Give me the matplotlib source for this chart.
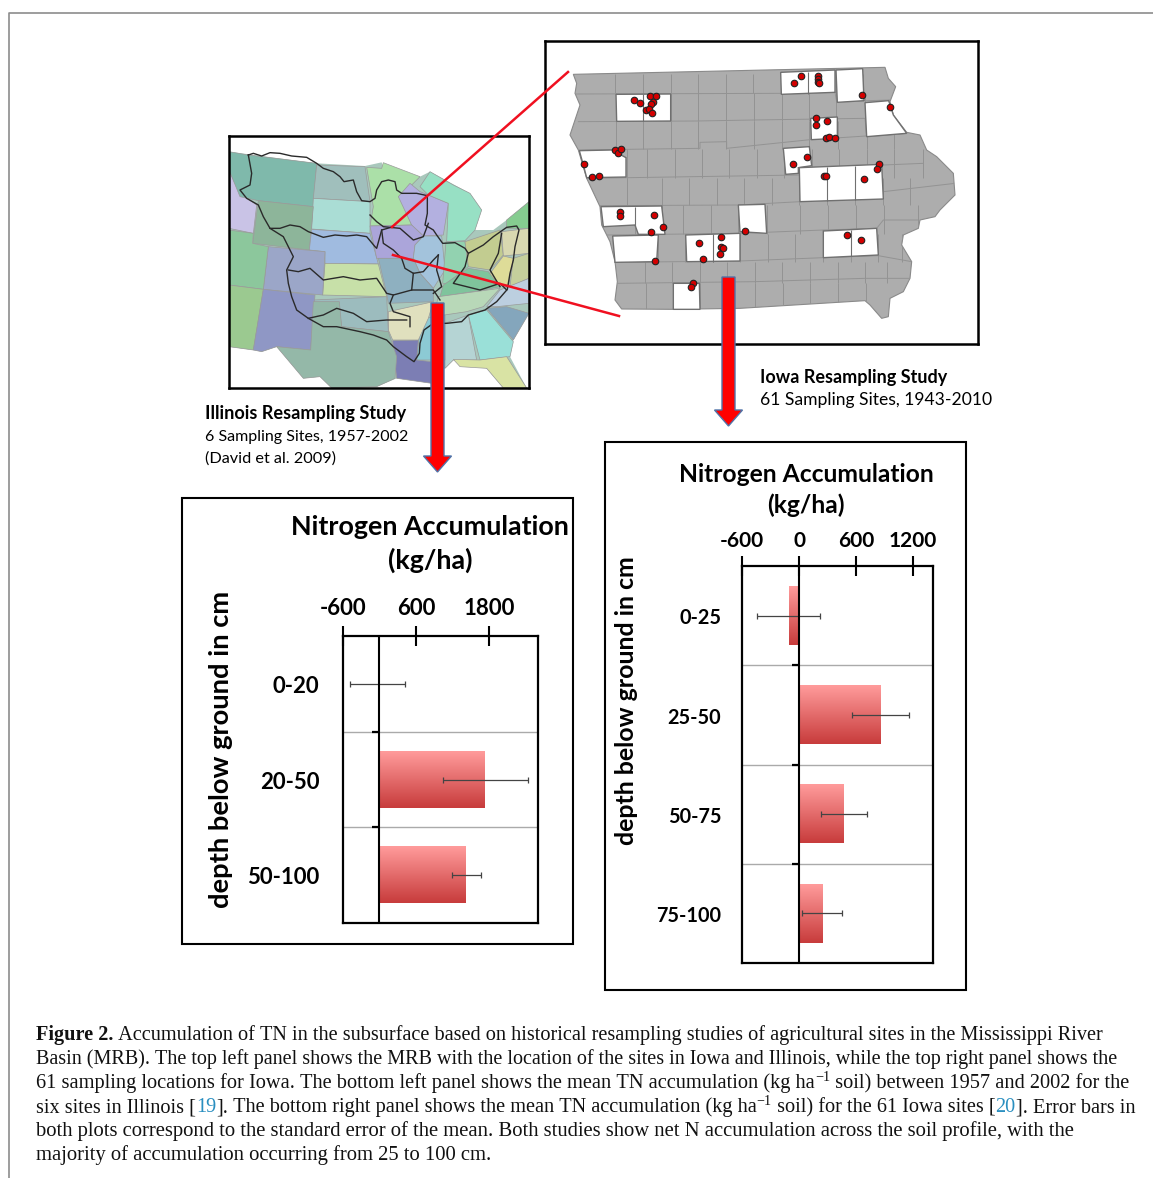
import numpy as np
import matplotlib
matplotlib.use('Agg')
import matplotlib.pyplot as plt
from matplotlib.patches import Polygon, Rectangle
from matplotlib.transforms import ScaledTranslation

W, H = 1153, 1178

# Illinois chart values
il_depths = ['0-20', '20-50', '50-100']
il_values = [0, 1739, 1426]
il_err_low = [-479, 1040, 1189]
il_err_high = [418, 2444, 1673]
il_ticks = [-600, 600, 1800]

# Iowa chart values
ia_depths = ['0-25', '25-50', '50-75', '75-100']
ia_values = [-108, 858, 467, 244]
ia_err_low = [-445, 558, 234, 35]
ia_err_high = [225, 1158, 712, 457]
ia_ticks = [-600, 0, 600, 1200]

# Iowa sampling sites, in map coordinates
site_x = [281, 300, 331, 348, 338, 334, 318, 326, 337, 782, 763, 833, 833, 833, 837, 965, 1050,
          829, 828, 862, 859, 867, 885, 800, 759, 224, 233, 242, 131, 155, 176,
          1016, 1012, 851, 858, 972, 240, 240, 341, 370, 333,
          614, 921, 962, 345, 478, 489, 542, 542, 548, 541, 459, 453]
site_y = [195, 205, 182, 183, 200, 207, 226, 222, 233, 122, 145, 124, 133, 141, 143, 181, 216,
          250, 269, 258, 309, 305, 310, 365, 388, 346, 353, 343, 388, 426, 424,
          388, 403, 423, 422, 433, 530, 543, 539, 575, 591,
          587, 599, 615, 678, 625, 671, 606, 637, 639, 658, 743, 757]

iowa_outline = [(100, 118), (1035, 97), (1045, 130), (1067, 155), (1050, 200), (1060, 240), (1100, 292),
                (1140, 300), (1160, 345), (1190, 365), (1240, 415), (1245, 480), (1200, 525), (1185, 545),
                (1140, 555), (1135, 580), (1090, 600), (1085, 630), (1115, 680), (1110, 730), (1090, 770),
                (1050, 790), (1045, 845), (1025, 850), (990, 810), (975, 797), (600, 820), (400, 823),
                (245, 822), (225, 795), (232, 740), (225, 680), (210, 620), (185, 570), (180, 515),
                (140, 430), (115, 345), (90, 300), (120, 210), (105, 175), (110, 145)]

white_counties = [
    [(228, 178), (392, 177), (392, 258), (230, 259)],
    [(722, 112), (885, 105), (885, 172), (724, 178)],
    [(888, 105), (968, 101), (972, 197), (892, 202)],
    [(975, 203), (1046, 197), (1060, 240), (1100, 295), (980, 305)],
    [(812, 250), (892, 246), (892, 310), (814, 314)],
    [(730, 340), (808, 335), (815, 392), (775, 398), (775, 415), (737, 418)],
    [(778, 398), (1025, 388), (1030, 492), (780, 500)],
    [(118, 347), (215, 345), (258, 368), (258, 426), (140, 428), (130, 390)],
    [(183, 515), (365, 513), (375, 598), (295, 598), (285, 570), (190, 575)],
    [(218, 603), (355, 600), (350, 680), (225, 682)],
    [(437, 600), (600, 595), (600, 678), (440, 680)],
    [(595, 510), (675, 508), (680, 595), (600, 590)],
    [(850, 588), (1010, 580), (1015, 660), (850, 668)],
    [(400, 745), (478, 745), (480, 823), (400, 823)],
]

# county grid: (top, bottom, x positions)
county_rows = [
    (118, 175, [225, 310, 392, 475, 558, 640, 722, 805, 888, 970]),
    (175, 258, [228, 310, 392, 475, 558, 642, 725, 808, 888, 975]),
    (258, 342, [228, 310, 392, 475, 558, 642, 725, 808, 895, 980, 1062]),
    (342, 428, [260, 322, 405, 487, 568, 650, 733, 815, 898, 980, 1062, 1148]),
    (428, 510, [260, 365, 448, 530, 612, 695, 778, 860, 945, 1030, 1110]),
    (510, 597, [285, 365, 430, 512, 595, 680, 780, 865, 948, 1033, 1135]),
    (597, 680, [355, 435, 518, 600, 685, 765, 850, 932, 1015, 1085]),
    (680, 745, [315, 397, 480, 560, 645, 727, 810, 893, 975, 1040]),
    (745, 822, [317, 400, 480, 563, 645, 730, 810, 895, 978]),
]
county_lines = [
    [(105, 177), (725, 175), (885, 172), (890, 200), (1050, 195)],
    [(115, 260), (470, 258), (640, 255), (975, 250), (980, 305), (1100, 295)],
    [(115, 345), (480, 340), (480, 322), (560, 320), (560, 340), (810, 314), (1100, 295)],
    [(140, 430), (780, 420), (1030, 390), (1150, 385)],
    [(180, 512), (595, 510), (780, 500), (1030, 470), (1245, 445)],
    [(200, 600), (600, 595), (850, 585), (1010, 580), (1030, 555), (1135, 555)],
    [(225, 682), (600, 678), (850, 668), (1015, 662), (1115, 680)],
    [(232, 745), (645, 740), (975, 730), (1110, 730)],
]

# US states and basin lines, in map coordinates
us_outline = [(27, 65), (290, 100), (435, 108), (485, 97), (490, 115), (600, 140), (630, 125), (750, 190), (785, 240),
              (765, 300), (820, 300), (860, 270), (927, 215), (927, 550), (880, 630), (870, 680), (920, 774),
              (850, 774), (800, 715), (700, 690), (675, 715), (635, 760), (530, 745), (470, 770), (335, 774),
              (300, 740), (250, 745), (170, 650), (125, 665), (100, 660), (27, 650)]

state_shapes = [
    ('#c9c3e6', [(27, 120), (50, 170), (60, 190), (110, 225), (100, 310), (27, 295)]),
    ('#7fb9ab', [(27, 65), (85, 75), (290, 100), (280, 230), (115, 212), (60, 200), (27, 120)]),
    ('#a0bfbc', [(290, 105), (435, 110), (450, 215), (280, 205)]),
    ('#abe0a8', [(440, 112), (485, 115), (490, 98), (600, 140), (540, 200), (575, 285), (450, 288), (460, 230)]),
    ('#b3b0e0', [(535, 200), (570, 160), (600, 185), (625, 195), (685, 220), (670, 315), (610, 318), (575, 285)]),
    ('#97e0c4', [(600, 170), (630, 125), (700, 165), (750, 190), (785, 240), (765, 300), (735, 332), (680, 335), (685, 220), (625, 195)]),
    ('#aaddd5', [(280, 205), (450, 215), (450, 310), (275, 297)]),
    ('#8db59a', [(115, 212), (280, 230), (268, 360), (98, 340)]),
    ('#a0bbe0', [(275, 298), (450, 310), (475, 402), (315, 400), (315, 365), (268, 360)]),
    ('#aba5da', [(450, 288), (575, 285), (610, 318), (585, 345), (580, 385), (470, 385)]),
    ('#a3c3dc', [(585, 345), (610, 318), (665, 318), (675, 420), (640, 475), (600, 430), (580, 385)]),
    ('#92d2b0', [(678, 335), (735, 335), (745, 410), (680, 460), (668, 460)]),
    ('#c2cc90', [(735, 335), (840, 300), (850, 375), (810, 420), (745, 410)]),
    ('#d8d8b0', [(845, 305), (927, 295), (927, 370), (850, 378)]),
    ('#85cc90', [(860, 270), (927, 215), (927, 295), (860, 295)]),
    ('#c5cf9c', [(880, 385), (927, 370), (927, 445), (870, 470)]),
    ('#dedc98', [(810, 430), (850, 378), (880, 385), (865, 470), (805, 460)]),
    ('#7fc49c', [(670, 465), (745, 415), (805, 425), (840, 470), (790, 480), (660, 500)]),
    ('#b8d8b8', [(655, 500), (840, 475), (790, 530), (740, 545), (640, 560)]),
    ('#bccfe0', [(840, 480), (927, 445), (927, 520), (830, 530), (800, 530)]),
    ('#84a6bc', [(800, 535), (860, 530), (927, 550), (880, 630)]),
    ('#9ae0d8', [(745, 555), (800, 540), (880, 635), (870, 680), (780, 690)]),
    ('#b5d4d4', [(675, 580), (745, 555), (770, 690), (700, 690), (675, 715)]),
    ('#8ccad4', [(610, 565), (675, 555), (675, 690), (590, 690), (598, 620)]),
    ('#7c7eb4', [(518, 632), (595, 630), (590, 690), (635, 695), (635, 760), (530, 745)]),
    ('#e0e0be', [(505, 545), (640, 515), (625, 565), (595, 630), (518, 630), (505, 600)]),
    ('#8eb0c0', [(475, 385), (580, 385), (600, 430), (640, 475), (640, 515), (505, 520), (500, 490)]),
    ('#9cbcbe', [(280, 510), (500, 500), (505, 605), (365, 590), (355, 520), (280, 520)]),
    ('#c7e0a8', [(315, 400), (475, 402), (500, 500), (308, 495)]),
    ('#9ba6c8', [(145, 350), (315, 365), (308, 495), (130, 478)]),
    ('#8cc79c', [(27, 300), (100, 310), (98, 340), (145, 350), (130, 478), (27, 465)]),
    ('#9bc990', [(27, 465), (130, 478), (100, 660), (27, 650)]),
    ('#8f97c5', [(130, 478), (285, 495), (272, 660), (170, 650), (125, 665), (100, 660)]),
    ('#94b8a8', [(280, 515), (358, 515), (365, 590), (505, 605), (530, 680), (525, 745), (470, 770), (335, 774), (300, 740), (250, 745), (170, 650), (272, 660)]),
    ('#d9e3a4', [(700, 688), (780, 690), (860, 680), (920, 774), (850, 774), (800, 715), (720, 710)]),
]

basin_lines = [
    [(85, 75), (100, 70), (125, 78), (150, 68), (180, 70), (215, 78), (260, 82), (290, 100), (310, 115), (340, 125),
     (360, 140), (372, 155), (400, 150), (410, 185), (425, 212), (450, 215), (465, 205), (470, 180), (485, 155),
     (505, 150), (525, 155), (530, 180), (545, 190), (590, 190), (622, 197), (622, 250), (615, 285), (640, 300),
     (650, 315), (668, 340), (705, 338), (735, 355), (745, 370), (790, 345), (820, 320), (860, 292), (890, 288),
     (897, 300), (885, 350), (880, 390), (870, 430), (862, 478), (830, 515), (795, 540), (745, 555), (725, 575),
     (680, 580), (640, 580), (612, 600), (600, 640), (598, 670), (582, 695), (560, 680), (520, 650), (500, 630),
     (460, 615), (420, 605), (350, 590), (310, 590), (265, 565), (230, 540), (215, 500), (205, 460), (200, 420),
     (220, 380), (205, 350), (190, 320), (150, 295), (130, 260), (115, 225), (80, 205), (60, 180), (90, 165),
     (95, 130), (85, 75)],
    [(150, 295), (180, 295), (210, 285), (240, 290), (265, 305), (310, 322), (345, 315), (380, 318), (410, 315),
     (440, 320), (465, 350), (470, 355), (485, 300), (520, 290)],
    [(485, 300), (490, 340), (520, 360), (545, 385), (555, 415), (580, 430), (610, 425), (640, 390), (655, 375)],
    [(450, 255), (470, 275), (490, 290), (540, 295), (580, 330), (610, 320), (625, 280)],
    [(205, 420), (235, 425), (270, 415), (310, 450), (370, 440), (420, 450), (470, 445), (500, 490), (520, 495),
     (575, 480), (640, 480), (660, 510)],
    [(575, 480), (580, 430)],
    [(520, 495), (510, 520), (520, 545), (570, 560), (570, 590)],
    [(265, 565), (310, 555), (350, 535), (400, 550), (440, 575), (500, 570), (560, 570)],
    [(745, 370), (735, 410), (700, 460), (740, 470), (780, 480), (840, 460), (860, 480)],
    [(655, 375), (650, 420), (665, 470), (640, 490)],
    [(845, 310), (835, 370), (810, 420), (840, 470)],
]

plt.rcParams['font.family'] = ['Lato', 'DejaVu Sans']
fig = plt.figure(figsize=(W / 100, H / 100), dpi=100)


def px_axes(left, top, right, bottom, **kw):
    return fig.add_axes([left / W, 1 - bottom / H, (right - left) / W, (bottom - top) / H], **kw)


# US map
us = px_axes(229, 136, 529, 388)
us.add_patch(Polygon(us_outline, closed=True, facecolor='#a9c8bc', edgecolor='none'))
for color, shape in state_shapes:
    us.add_patch(Polygon(shape, closed=True, facecolor=color, edgecolor='#9a9a9a', linewidth=0.5))
for line in basin_lines:
    xs, ys = zip(*line)
    us.plot(xs, ys, color='#2a2a2a', linewidth=1.0)
us.set_xlim(27, 927)
us.set_ylim(774, 18)
us.set_xticks([])
us.set_yticks([])
for s in us.spines.values():
    s.set_linewidth(1.8)

# Iowa map
ia_map = px_axes(545, 41, 978, 344)
outline_patch = Polygon(iowa_outline, closed=True, facecolor='#adadad', edgecolor='#8a8a8a', linewidth=0.8)
ia_map.add_patch(outline_patch)
for top, bottom, xs in county_rows:
    ia_map.vlines(xs, top, bottom, color='#939393', linewidth=0.7).set_clip_path(outline_patch)
for line in county_lines:
    xs, ys = zip(*line)
    l, = ia_map.plot(xs, ys, color='#939393', linewidth=0.7)
    l.set_clip_path(outline_patch)
for shape in white_counties:
    ia_map.add_patch(Polygon(shape, closed=True, facecolor='white', edgecolor='#707070', linewidth=1.0, zorder=3))
ia_map.vlines([310, 805, 860, 945, 518, 932, 285], [178, 110, 395, 392, 598, 585, 515],
              [258, 176, 498, 494, 680, 664, 572], color='#707070', linewidth=0.8, zorder=3)
ia_map.scatter(site_x, site_y, s=22, color='#d40000', edgecolor='#222222', linewidth=0.8, zorder=4)
ia_map.set_xlim(15, 1314)
ia_map.set_ylim(927, 18)
ia_map.set_xticks([])
ia_map.set_yticks([])
for s in ia_map.spines.values():
    s.set_linewidth(1.8)


def bar_panel(box, depths, values, err_low, err_high, ticks, xlim, small_tick, xsize, ysize, xpad, ypad):
    ax = px_axes(*box)
    rows = np.arange(len(depths)) + 0.5
    bars = ax.barh(rows, values, height=0.59, color='none', zorder=2)
    gradient = np.linspace(0, 1, 64).reshape(-1, 1)
    cmap = matplotlib.colors.LinearSegmentedColormap.from_list('bar', ['#ff9b9b', '#c83c3c'])
    for bar, value in zip(bars, values):
        if value == 0:
            continue
        ax.imshow(gradient, cmap=cmap, aspect='auto', zorder=2,
                  extent=(min(0, value), max(0, value), bar.get_y() + bar.get_height(), bar.get_y()))
    values = np.array(values)
    ax.errorbar(values, rows, xerr=[values - np.array(err_low), np.array(err_high) - values],
                fmt='none', ecolor='#444444', elinewidth=0.9, capsize=2.5, capthick=0.9, zorder=3)
    edges = np.arange(1, len(depths))
    ax.hlines(edges, xlim[0], xlim[1], color='#aaaaaa', linewidth=1.0, zorder=1)
    ax.hlines(edges, -small_tick, 0, color='black', linewidth=1.6, zorder=4)
    ax.axvline(0, color='black', linewidth=1.5, zorder=4)
    ax.set_xlim(*xlim)
    ax.set_ylim(len(depths), 0)
    ax.set_xticks(ticks)
    ax.set_xticklabels([str(t) for t in ticks], fontsize=xsize, fontweight='bold')
    ax.xaxis.tick_top()
    ax.tick_params(axis='x', direction='inout', length=15, width=1.5, pad=xpad)
    ax.set_yticks(rows)
    ax.set_yticklabels(depths, fontsize=ysize, fontweight='bold')
    ax.tick_params(axis='y', length=0, pad=ypad)
    shift = ScaledTranslation(0, -0.6 / 72, fig.dpi_scale_trans)
    for label in ax.get_yticklabels():
        label.set_transform(label.get_transform() + shift)
    for s in ax.spines.values():
        s.set_linewidth(1.6)
    return ax


il_ax = bar_panel((343, 636, 538, 923), il_depths, il_values, il_err_low, il_err_high,
                  il_ticks, (-600, 2610), 115, 16, 16, 4.5, 17)
ia_ax = bar_panel((742, 566, 933, 963), ia_depths, ia_values, ia_err_low, ia_err_high,
                  ia_ticks, (-600, 1410), 70, 15, 14.3, 3.5, 15)

# everything in pixel coordinates on top
top_ax = fig.add_axes([0, 0, 1, 1], zorder=10)
top_ax.set_xlim(0, W)
top_ax.set_ylim(H, 0)
top_ax.axis('off')

# page edge
top_ax.plot([9, 9, W], [H, 13, 13], color='#8c8c8c', linewidth=1.2)

# chart frames
for x0, y0, x1, y1 in [(182, 498, 573, 944), (605, 442, 966, 990)]:
    top_ax.add_patch(Rectangle((x0, y0), x1 - x0, y1 - y0, fill=False, edgecolor='black', linewidth=1.5))

# red connector lines
top_ax.plot([392, 568], [227, 72], color='#f01020', linewidth=1.8)
top_ax.plot([393, 619], [255, 316], color='#f01020', linewidth=1.8)

# red arrows
for cx, y0, y1, y2 in [(437.5, 303, 456, 472), (728.5, 277, 410, 426)]:
    pts = [(cx - 6.5, y0), (cx + 6.5, y0), (cx + 6.5, y1), (cx + 14, y1), (cx, y2),
           (cx - 14, y1), (cx - 6.5, y1)]
    top_ax.add_patch(Polygon(pts, closed=True, facecolor='#ff0000', edgecolor='#4f73a8', linewidth=1.0))

# panel labels
top_ax.text(205, 414, 'Illinois Resampling Study', fontsize=13.1, fontweight='bold', va='center')
top_ax.text(205, 437, '6 Sampling Sites, 1957-2002', fontsize=11.55, va='center')
top_ax.text(205, 459, '(David et al. 2009)', fontsize=11.7, va='center')
top_ax.text(760, 377, 'Iowa Resampling Study', fontsize=13, fontweight='bold', va='center')
top_ax.text(760, 400, '61 Sampling Sites, 1943-2010', fontsize=12.65, va='center')

top_ax.text(430, 527, 'Nitrogen Accumulation', fontsize=19.4, fontweight='bold', ha='center', va='center')
top_ax.text(430, 560, '(kg/ha)', fontsize=19.4, fontweight='bold', ha='center', va='center')
top_ax.text(806, 474, 'Nitrogen Accumulation', fontsize=17.7, fontweight='bold', ha='center', va='center')
top_ax.text(806, 505, '(kg/ha)', fontsize=17.7, fontweight='bold', ha='center', va='center')
top_ax.text(221, 749, 'depth below ground in cm', fontsize=19.7, fontweight='bold', rotation=90,
            ha='center', va='center')
top_ax.text(626, 701, 'depth below ground in cm', fontsize=17.9, fontweight='bold', rotation=90,
            ha='center', va='center')

# caption, one list of runs per line: (text, style)
BLUE = '#2a8fc0'
caption_lines = [
    (1105, [('Figure 2.', 'b'), (' Accumulation of TN in the subsurface based on historical resampling studies of agricultural sites in the Mississippi River', 'n')]),
    (1117, [('Basin (MRB). The top left panel shows the MRB with the location of the sites in Iowa and Illinois, while the top right panel shows the', 'n')]),
    (1131, [('61 sampling locations for Iowa. The bottom left panel shows the mean TN accumulation (kg ha', 'n'), ('\u22121', 's'), (' soil) between 1957 and 2002 for the', 'n')]),
    (1135, [('six sites in Illinois [', 'n'), ('19', 'r'), ('].', 'n'), (' The bottom right panel shows the mean TN accumulation (kg ha', 'n'), ('\u22121', 's'), (' soil) for the 61 Iowa sites [', 'n'), ('20', 'r'), (']. Error bars in', 'n')]),
    (1073, [('both plots correspond to the standard error of the mean. Both studies show net N accumulation across the soil profile, with the', 'n')]),
    (491, [('majority of accumulation occurring from 25 to 100 cm.', 'n')]),
]
caption_y = [1040, 1064, 1088, 1112, 1136, 1160]
renderer = fig.canvas.get_renderer()


def draw_line(x_end, runs, y):
    # measure at a trial size and fit the line to its width, the last pass stays
    base = 14.0
    for attempt in range(4):
        x = 36
        drawn = []
        for txt, style in runs:
            size = base * 0.7 if style == 's' else base
            weight = 'bold' if style == 'b' else 'normal'
            color = BLUE if style == 'r' else '#111111'
            yy = y - 7 if style == 's' else y
            t = top_ax.text(x, yy, txt.replace(' ', '\u00a0'), family=['Liberation Serif'], fontsize=size,
                            fontweight=weight, color=color, va='baseline')
            x = t.get_window_extent(renderer).x1
            drawn.append(t)
        if attempt < 3:
            base = base * (x_end - 36) / (x - 36)
            for t in drawn:
                t.remove()


for (x_end, runs), y in zip(caption_lines, caption_y):
    draw_line(x_end, runs, y)

fig.savefig('out.png', dpi=100)
